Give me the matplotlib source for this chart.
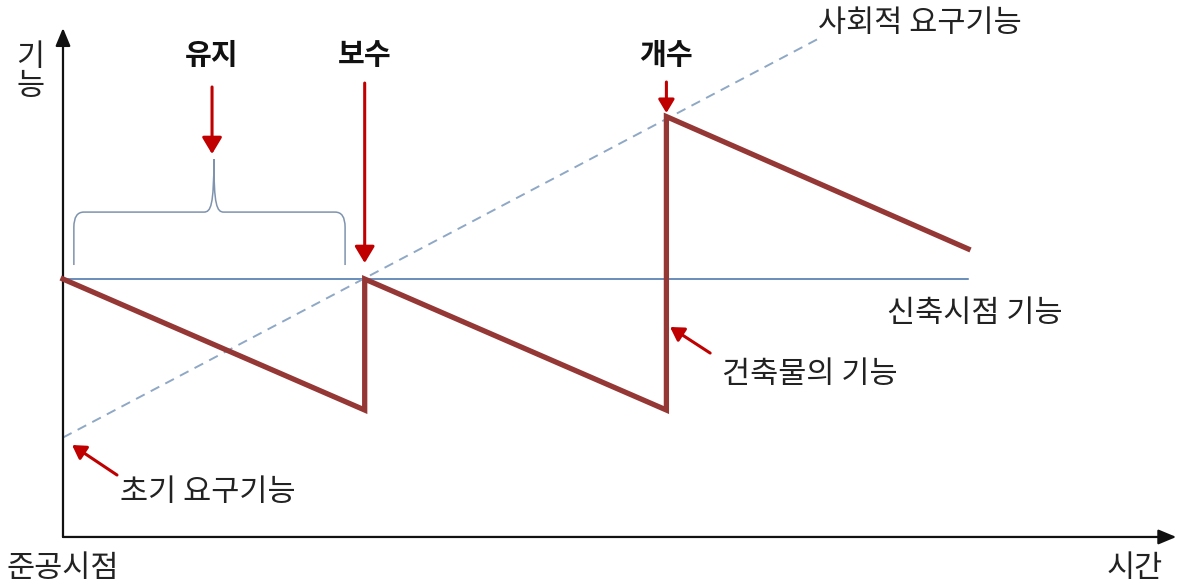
import matplotlib.pyplot as plt
from matplotlib.path import Path
from matplotlib.patches import PathPatch

plt.rcParams['font.family'] = ['Noto Sans CJK KR', 'DejaVu Sans']

# building function over time (maintenance -> repair -> renovation)
time = [0, 1, 1, 2, 2, 3]
building = [0.0, -1.0, 0.0, -1.0, 1.24, 0.23]

# function level at completion (new-build level)
baseline_t = [0, 3.0]
baseline = [0.0, 0.0]

# social demand, rising over time
demand_t = [0, 2.5]
demand = [-1.21, 1.83]

event_labels = ['유지', '보수', '개수']
event_t = [0.494, 1.0, 2.0]

RED = '#C00000'
BROWN = '#953735'
TXT = 22


def arrow(ax, start, end, scale=20, color=RED, lw=2.2):
    ax.annotate('', xy=end, xytext=start,
                arrowprops=dict(arrowstyle='-|>,head_length=0.5,head_width=0.3',
                                color=color, lw=lw, mutation_scale=scale,
                                shrinkA=0, shrinkB=0))


fig = plt.figure(figsize=(11.77, 5.84), dpi=100)
ax = fig.add_axes([0, 0, 1, 1])
ax.set_xlim(-0.2088, 3.6924)
ax.set_ylim(-2.328, 2.130)
ax.axis('off')

# axes with arrow heads
y_axis = -1.969
for tip in [(0, 1.916), (3.69, y_axis)]:
    ax.annotate('', xy=tip, xytext=(0, y_axis),
                arrowprops=dict(arrowstyle='-|>,head_length=0.6,head_width=0.25',
                                color='#111111', lw=1.6, mutation_scale=18,
                                shrinkA=0, shrinkB=0))

ax.plot(baseline_t, baseline, color='#3F6FA8', lw=1.1, zorder=2)
ax.plot(demand_t, demand, color='#8FA8C6', lw=1.4, ls=(0, (5, 3.5)), zorder=2)
ax.plot(time, building, color=BROWN, lw=3.8, solid_joinstyle='miter', zorder=3)

# brace over the maintenance period
x0, x1, xc = 0.036, 0.935, 0.50
yb, yh, yt = 0.107, 0.511, 0.916
rx, ry = 0.033, 0.115
verts = [(x0, yb), (x0, yh - ry), (x0, yh), (x0 + rx, yh),
         (xc - rx, yh), (xc - 0.01, yh), (xc, yh + 0.05), (xc, yt),
         (xc, yh + 0.05), (xc + 0.01, yh), (xc + rx, yh),
         (x1 - rx, yh), (x1, yh), (x1, yh - ry), (x1, yb)]
codes = [Path.MOVETO, Path.LINETO, Path.CURVE3, Path.CURVE3,
         Path.LINETO, Path.CURVE4, Path.CURVE4, Path.CURVE4,
         Path.CURVE4, Path.CURVE4, Path.CURVE4,
         Path.LINETO, Path.CURVE3, Path.CURVE3, Path.LINETO]
ax.add_patch(PathPatch(Path(verts, codes), fill=False, ec='#7F93AE', lw=1.1))

# event labels and arrows
for lab, t in zip(event_labels, event_t):
    ax.text(t, 1.71, lab, ha='center', va='center', fontsize=21,
            fontweight='bold', color='#111111')
arrow(ax, (event_t[0], 1.466), (event_t[0], 0.954))
arrow(ax, (event_t[1], 1.496), (event_t[1], 0.122))
arrow(ax, (event_t[2], 1.504), (event_t[2], 1.267), scale=16)

# callouts
ax.text(2.502, 1.954, '사회적 요구기능', ha='left', va='center', fontsize=TXT,
        color='#222222')
ax.text(3.023, -0.26, '신축시점 기능', ha='center', va='center', fontsize=TXT,
        color='#222222')
ax.text(2.476, -0.725, '건축물의 기능', ha='center', va='center', fontsize=TXT,
        color='#222222')
arrow(ax, (2.145, -0.565), (2.012, -0.366), scale=16)
ax.text(0.481, -1.626, '초기 요구기능', ha='center', va='center', fontsize=TXT,
        color='#222222')
arrow(ax, (0.179, -1.496), (0.030, -1.267), scale=16)

# axis labels
ax.text(0.0, -2.206, '준공시점', ha='center', va='center', fontsize=TXT,
        color='#222222')
ax.text(3.553, -2.206, '시간', ha='center', va='center', fontsize=TXT,
        color='#222222')
ax.text(-0.109, 1.58, '기\n능', ha='center', va='center', fontsize=TXT,
        color='#222222', linespacing=0.95)

fig.savefig('out.png', dpi=100)
